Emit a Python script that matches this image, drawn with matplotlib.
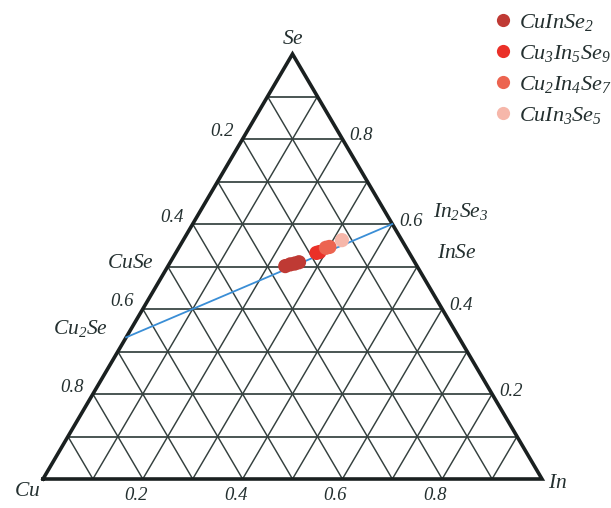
import numpy as np
import matplotlib
matplotlib.use("Agg")
import matplotlib.pyplot as plt
from matplotlib.lines import Line2D

plt.rcParams['mathtext.fontset'] = 'custom'
plt.rcParams['mathtext.it'] = 'Liberation Serif:italic'
plt.rcParams['mathtext.rm'] = 'Liberation Serif:italic'
plt.rcParams['font.family'] = ['Liberation Serif']
plt.rcParams['font.style'] = 'italic'

# Compositions (atomic fractions Cu, In, Se) of measured samples
cuinse2_cu = [0.264, 0.252, 0.242, 0.232]
cuinse2_in = [0.235, 0.243, 0.251, 0.258]
cuinse2_se = [0.501, 0.505, 0.507, 0.510]

cu3in5se9_cu = [0.186, 0.179]
cu3in5se9_in = [0.282, 0.287]
cu3in5se9_se = [0.532, 0.534]

cu2in4se7_cu = [0.161, 0.153]
cu2in4se7_in = [0.295, 0.301]
cu2in4se7_se = [0.544, 0.546]

cuin3se5_cu = [0.120]
cuin3se5_in = [0.318]
cuin3se5_se = [0.562]

series_labels = [r'$CuInSe_2$', r'$Cu_3In_5Se_9$', r'$Cu_2In_4Se_7$', r'$CuIn_3Se_5$']
series_colors = ['#bf3a34', '#ea3028', '#ec6450', '#f6b7aa']

tick_values = [0.2, 0.4, 0.6, 0.8]
tick_labels = ['0.2', '0.4', '0.6', '0.8']

# Binary compounds on the edges: (label, Cu, In, Se)
binaries = [
    (r'$CuSe$', 0.5, 0.0, 0.5),
    (r'$Cu_2Se$', 2 / 3, 0.0, 1 / 3),
    (r'$In_2Se_3$', 0.0, 0.4, 0.6),
    (r'$InSe$', 0.0, 0.5, 0.5),
]
tie_start = (2 / 3, 0.0, 1 / 3)   # Cu2Se
tie_end = (0.0, 0.4, 0.6)         # In2Se3

TEXT = '#243030'
GRID = '#34403e'


def tern(cu, inn, se):
    """Ternary composition -> plot coordinates (x along Cu-In, y = Se)."""
    cu = np.asarray(cu, float); inn = np.asarray(inn, float); se = np.asarray(se, float)
    tot = cu + inn + se
    inn = inn / tot; se = se / tot
    return inn + se / 2.0, se


fig = plt.figure(figsize=(6.11, 5.08), dpi=100)
ax = fig.add_axes([0, 0, 1, 1])
W, H = 499.0, 425.0
x0, y0 = 43.0, 479.0
ax.set_xlim(-x0 / W, (611 - x0) / W)
ax.set_ylim(-(508 - y0) / H, y0 / H)
ax.axis('off')

# grid lines every 0.1
for k in range(1, 10):
    v = k / 10
    # constant Se
    xs, ys = tern([1 - v, 0], [0, 1 - v], [v, v])
    ax.plot(xs, ys, color=GRID, lw=1.25, zorder=1)
    # constant In
    xs, ys = tern([1 - v, 0], [v, v], [0, 1 - v])
    ax.plot(xs, ys, color=GRID, lw=1.05, zorder=1)
    # constant Cu
    xs, ys = tern([v, v], [1 - v, 0], [0, 1 - v])
    ax.plot(xs, ys, color=GRID, lw=1.05, zorder=1)

# outer triangle
xs, ys = tern([1, 0, 0, 1], [0, 1, 0, 0], [0, 0, 1, 0])
ax.plot(xs, ys, color='#1a2020', lw=2.6, zorder=2, solid_joinstyle='miter')

# Cu2Se - In2Se3 tie line
xs, ys = tern([tie_start[0], tie_end[0]], [tie_start[1], tie_end[1]], [tie_start[2], tie_end[2]])
ax.plot(xs, ys, color='#3a8ed6', lw=1.3, zorder=3)

# samples
series = [
    (cuinse2_cu, cuinse2_in, cuinse2_se),
    (cu3in5se9_cu, cu3in5se9_in, cu3in5se9_se),
    (cu2in4se7_cu, cu2in4se7_in, cu2in4se7_se),
    (cuin3se5_cu, cuin3se5_in, cuin3se5_se),
]
handles = []
for (cu, inn, se), lab, col in zip(series, series_labels, series_colors):
    px, py = tern(cu, inn, se)
    ax.scatter(px, py, s=105, color=col, edgecolors='none', zorder=4)
    handles.append(Line2D([], [], marker='o', ls='none', color=col, markersize=9.5,
                          markeredgewidth=0, label=lab))

tk = dict(fontsize=13.5, color=TEXT, textcoords='offset pixels', annotation_clip=False)
# Cu fraction on the left edge
for v, t in zip(tick_values, tick_labels):
    px, py = tern(v, 0, 1 - v)
    ax.annotate(t, (px, py), xytext=(-21, 7), ha='center', va='center', **tk)
# Se fraction on the right edge
for v, t in zip(tick_values, tick_labels):
    px, py = tern(0, 1 - v, v)
    ax.annotate(t, (px, py), xytext=(7, 3), ha='left', va='center', **tk)
# In fraction on the base
for v, t in zip(tick_values, tick_labels):
    px, py = tern(1 - v, v, 0)
    ax.annotate(t, (px, py), xytext=(-7, -17), ha='center', va='center', **tk)

vk = dict(fontsize=15.5, color=TEXT, textcoords='offset pixels', annotation_clip=False)
ax.annotate(r'$Se$', tern(0, 0, 1), xytext=(0, 15), ha='center', va='center', **vk)
ax.annotate(r'$Cu$', tern(1, 0, 0), xytext=(-16, -13), ha='center', va='center', **vk)
ax.annotate(r'$In$', tern(0, 1, 0), xytext=(16, -5), ha='center', va='center', **vk)

offsets = {
    r'$CuSe$': ((-14, 3), 'right'),
    r'$Cu_2Se$': ((-18, 9), 'right'),
    r'$In_2Se_3$': ((41, 13), 'left'),
    r'$InSe$': ((20, 13), 'left'),
}
for lab, cu, inn, se in binaries:
    (dx, dy), ha = offsets[lab]
    ax.annotate(lab, tern(cu, inn, se), xytext=(dx, dy), ha=ha, va='center', **vk)

leg = fig.legend(handles=handles, loc='upper left', bbox_to_anchor=(485 / 611, 1 - 3 / 508),
                 frameon=False, fontsize=16, handlelength=0.8, handletextpad=0.35,
                 labelspacing=0.45, borderaxespad=0)
for t in leg.get_texts():
    t.set_color(TEXT)

fig.savefig('out.png', dpi=100, facecolor='white')
